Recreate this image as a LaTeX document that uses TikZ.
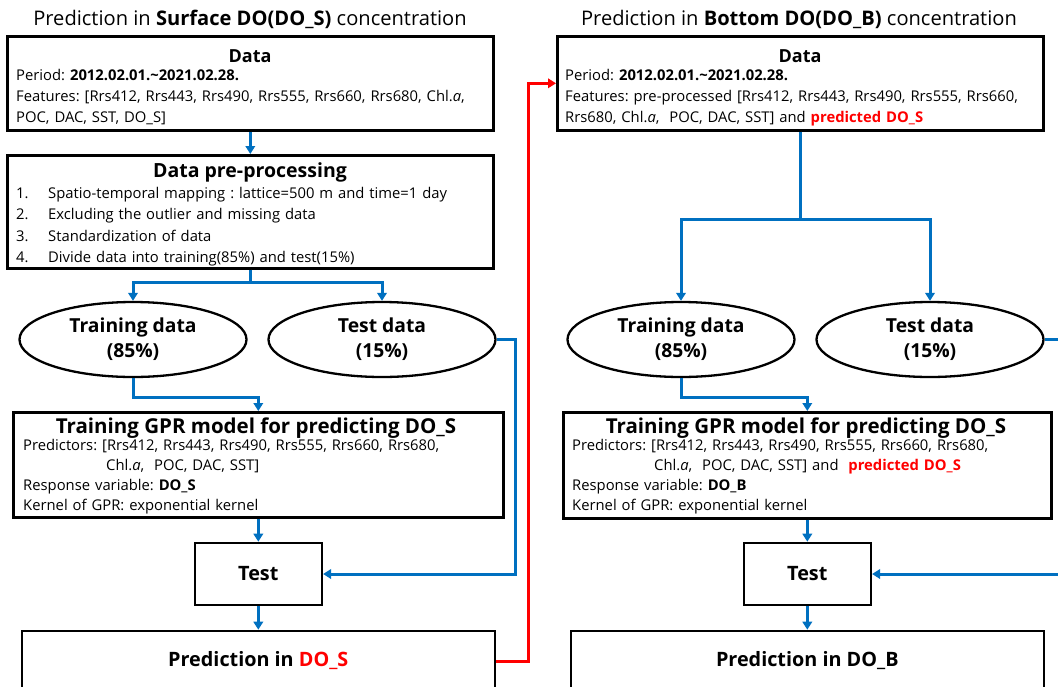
\documentclass[tikz,border=0pt]{standalone}
\usepackage{fontspec}
\setmainfont{Open Sans}
\frenchspacing
\usetikzlibrary{arrows.meta,shapes.geometric,positioning}

\definecolor{bleuflux}{RGB}{0,112,192}
\definecolor{rougeflux}{RGB}{255,0,0}

\newcommand{\taille}[2]{\fontsize{#1}{#2}\selectfont}
\newcommand{\rouge}[1]{\textcolor{rougeflux}{\textbf{#1}}}

\tikzset{
  boite/.style={draw, line width=2.6pt, inner sep=0pt, anchor=north west},
  cadre/.style={draw, line width=2.6pt, inner sep=0pt, font=\taille{19.8}{24}\bfseries},
  bulle/.style={draw, ellipse, line width=2.3pt, minimum width=227pt, minimum height=75pt,
                inner sep=0pt, align=center, font=\taille{19.3}{25}\bfseries},
  titre/.style={inner sep=0pt, font=\taille{20.1}{24}},
  entete/.style={inner sep=0pt, font=\taille{20.5}{24}\bfseries},
  corps/.style={anchor=base west, inner sep=0pt, align=left, font=\taille{14.8}{21}},
  fleche/.style={draw=bleuflux, line width=3pt, -{Triangle[length=8pt,width=9.5pt]}},
  flecherouge/.style={draw=rougeflux, line width=3pt, -{Triangle[length=8pt,width=9.5pt]}}
}

\begin{document}
\begin{tikzpicture}[x=1pt, y=-1pt]
  \useasboundingbox (0,0) rectangle (1058,686);

  % titres des deux colonnes
  \node[titre] (titreS) at (250,19) {Prediction in \textbf{Surface DO(DO\_S)} concentration};
  \node[titre] (titreB) at (799,19) {Prediction in \textbf{Bottom DO(DO\_B)} concentration};

  %%% colonne gauche : DO_S
  % donnees
  \node[boite, minimum width=486pt, minimum height=94pt] (dataS) at (6,35) {};
  \node[entete, font=\taille{18}{22}\bfseries] (dataStitre) at (250,56) {Data};
  \node[corps, text width=472pt] (dataScorps) at (16,80)
    {Period: \textbf{2012.02.01.\textasciitilde2021.02.28.}\\
     Features: [Rrs412, Rrs443, Rrs490, Rrs555, Rrs660, Rrs680, Chl.\textit{a},\\
     POC, DAC, SST, DO\_S]};

  % pre-traitement
  \node[boite, minimum width=486pt, minimum height=113pt] (prepS) at (6,154) {};
  \node[entete, font=\taille{19.5}{24}\bfseries] (prepStitre) at (250,172) {Data pre-processing};
  \node[corps, text width=472pt, font=\taille{14.8}{21.3}] (prepScorps) at (16,198.5)
    {\makebox[32pt][l]{1.}Spatio-temporal mapping : lattice=500 m and time=1 day\\
     \makebox[32pt][l]{2.}Excluding the outlier and missing data\\
     \makebox[32pt][l]{3.}Standardization of data\\
     \makebox[32pt][l]{4.}Divide data into training(85\%) and test(15\%)};

  % jeux d'apprentissage et de test
  \node[bulle] (trainS) at (133,339.5) {Training data\\(85\%)};
  \node[bulle] (testS) at (382,339.5) {Test data\\(15\%)};

  % modele GPR
  \node[boite, minimum width=490pt, minimum height=105pt] (gprS) at (12,411) {};
  \node[entete] (gprStitre) at (256,428) {Training GPR model for predicting DO\_S};
  \node[corps, text width=470pt, font=\taille{14.8}{20.3}] (gprScorps) at (23,450)
    {Predictors: [Rrs412, Rrs443, Rrs490, Rrs555, Rrs660, Rrs680,\\
     \hspace*{83pt}Chl.\textit{a},\ \ POC, DAC, SST]\\
     Response variable: \textbf{DO\_S}\\
     Kernel of GPR: exponential kernel};

  % test et prediction
  \node[cadre, minimum width=127pt, minimum height=62pt] (testboxS) at (258.3,574) {Test};
  \node[cadre, minimum width=473pt, minimum height=60pt] (predS) at (258.3,661)
    {Prediction in \rouge{DO\_S}};

  %%% colonne droite : DO_B
  % donnees
  \node[boite, minimum width=486pt, minimum height=94pt] (dataB) at (556,35) {};
  \node[entete, font=\taille{18}{22}\bfseries] (dataBtitre) at (800,56) {Data};
  \node[corps, text width=472pt] (dataBcorps) at (565,80)
    {Period: \textbf{2012.02.01.\textasciitilde2021.02.28.}\\
     Features: pre-processed [Rrs412, Rrs443, Rrs490, Rrs555, Rrs660,\\
     Rrs680, Chl.\textit{a},\ \ POC, DAC, SST] and \rouge{predicted DO\_S}};

  % jeux d'apprentissage et de test
  \node[bulle] (trainB) at (681,339.5) {Training data\\(85\%)};
  \node[bulle] (testB) at (930,339.5) {Test data\\(15\%)};

  % modele GPR
  \node[boite, minimum width=488pt, minimum height=106pt] (gprB) at (562,411) {};
  \node[entete] (gprBtitre) at (806,428) {Training GPR model for predicting DO\_S};
  \node[corps, text width=470pt, font=\taille{14.8}{20.3}] (gprBcorps) at (572,450)
    {Predictors: [Rrs412, Rrs443, Rrs490, Rrs555, Rrs660, Rrs680,\\
     \hspace*{82pt}Chl.\textit{a},\ \ POC, DAC, SST] and\ \ \rouge{predicted DO\_S}\\
     Response variable: \textbf{DO\_B}\\
     Kernel of GPR: exponential kernel};

  % test et prediction
  \node[cadre, minimum width=127pt, minimum height=62pt] (testboxB) at (807.3,574) {Test};
  \node[cadre, minimum width=473pt, minimum height=60pt] (predB) at (807.3,661) {Prediction in DO\_B};

  %%% liaisons
  \draw[fleche] (dataS.south) -- (prepS.north);
  \draw[fleche] (prepS.south) -- ++(0,13) -| (trainS.north);
  \draw[fleche] (prepS.south) -- ++(0,13) -| (testS.north);
  \draw[fleche] (trainS.south) -- ++(0,19) -| (gprS.north);
  \draw[fleche] (gprS.south) -- (testboxS.north);
  \draw[fleche] (testboxS.south) -- (predS.north);
  \draw[fleche] (testS.east) -- ++(19,0) |- (testboxS.east);

  % DO_S predit vers les donnees de fond
  \draw[flecherouge] (predS.east) -- ++(32,0) |- (dataB.west);

  \draw[fleche] (dataB.south) -- ++(0,88) -| (trainB.north);
  \draw[fleche] (dataB.south) -- ++(0,88) -| (testB.north);
  \draw[fleche] (trainB.south) -- ++(0,19) -| (gprB.north);
  \draw[fleche] (gprB.south) -- (testboxB.north);
  \draw[fleche] (testboxB.south) -- (predB.north);
  \draw[fleche] (testB.east) -- ++(30,0) |- (testboxB.east);
\end{tikzpicture}
\end{document}
